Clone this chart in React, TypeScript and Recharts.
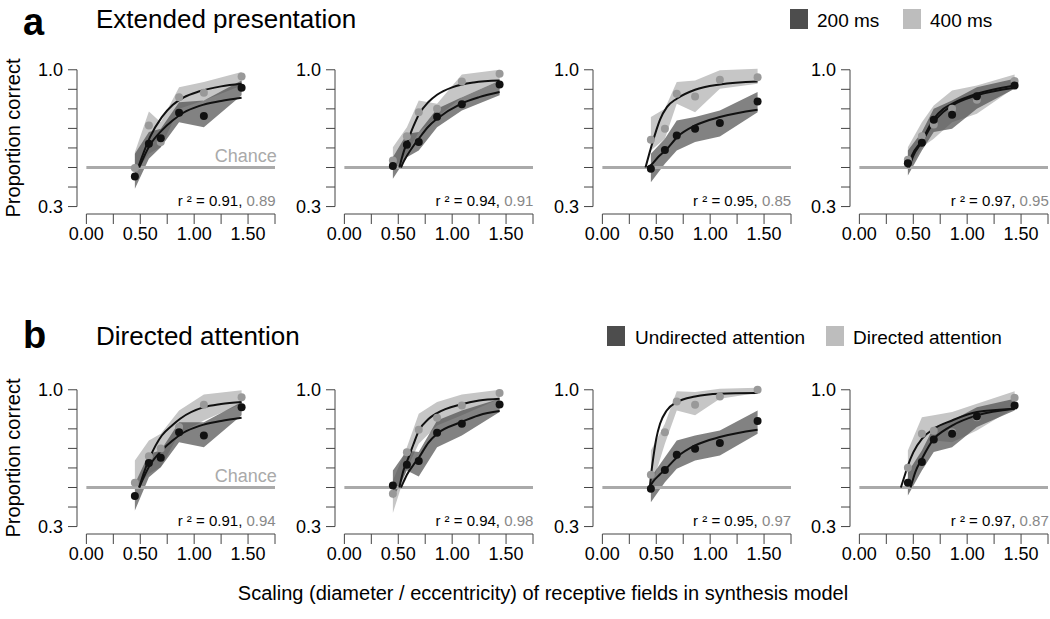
import React from "react";
import {
  ComposedChart,
  Area,
  Line,
  Scatter,
  XAxis,
  YAxis,
  ReferenceLine,
} from "recharts";

// scaling values tested (same for every panel)
const SCALING = [0.45, 0.58, 0.69, 0.86, 1.09, 1.44];
const X_TICKS = [0, 0.25, 0.5, 0.75, 1, 1.25, 1.5, 1.75];
const X_LABELS = [0, 0.5, 1, 1.5];
const Y_TICKS = [0.3, 0.4, 0.5, 0.6, 0.7, 0.8, 0.9, 1.0];
const Y_LABELS = [0.3, 1.0];
const CHANCE = 0.5;

// panel order: a1 a2 a3 a4 b1 b2 b3 b4
const DARK_DOTS = [
  [0.454, 0.621, 0.65, 0.78, 0.763, 0.908],
  [0.507, 0.616, 0.63, 0.76, 0.823, 0.925],
  [0.493, 0.59, 0.664, 0.698, 0.727, 0.838],
  [0.522, 0.626, 0.744, 0.77, 0.865, 0.92],
  [0.456, 0.625, 0.652, 0.783, 0.766, 0.911],
  [0.51, 0.616, 0.635, 0.78, 0.826, 0.925],
  [0.493, 0.59, 0.667, 0.698, 0.727, 0.84],
  [0.524, 0.63, 0.746, 0.775, 0.865, 0.92],
];
const LIGHT_DOTS = [
  [0.498, 0.715, 0.63, 0.86, 0.882, 0.966],
  [0.536, 0.66, 0.783, 0.8, 0.94, 0.98],
  [0.642, 0.698, 0.877, 0.863, 0.949, 0.962],
  [0.539, 0.66, 0.72, 0.8, 0.846, 0.942],
  [0.524, 0.66, 0.7, 0.809, 0.923, 0.962],
  [0.468, 0.68, 0.795, 0.857, 0.92, 0.983],
  [0.565, 0.783, 0.94, 0.923, 0.966, 1.0],
  [0.601, 0.775, 0.79, 0.783, 0.86, 0.959],
];
const DARK_LO = [
  [0.391, 0.545, 0.604, 0.732, 0.706, 0.869],
  [0.442, 0.553, 0.587, 0.706, 0.792, 0.869],
  [0.425, 0.519, 0.587, 0.63, 0.659, 0.783],
  [0.459, 0.587, 0.681, 0.698, 0.8, 0.903],
  [0.382, 0.553, 0.604, 0.732, 0.706, 0.869],
  [0.442, 0.587, 0.556, 0.706, 0.766, 0.886],
  [0.425, 0.527, 0.596, 0.638, 0.664, 0.775],
  [0.459, 0.587, 0.681, 0.706, 0.809, 0.894],
];
const DARK_HI = [
  [0.57, 0.681, 0.698, 0.834, 0.843, 0.945],
  [0.553, 0.672, 0.681, 0.8, 0.86, 0.945],
  [0.57, 0.647, 0.741, 0.758, 0.792, 0.886],
  [0.587, 0.681, 0.8, 0.843, 0.911, 0.954],
  [0.519, 0.672, 0.689, 0.834, 0.834, 0.937],
  [0.587, 0.689, 0.681, 0.843, 0.894, 0.954],
  [0.553, 0.655, 0.741, 0.766, 0.792, 0.894],
  [0.578, 0.689, 0.809, 0.843, 0.911, 0.954],
];
const LIGHT_LO = [
  [0.468, 0.57, 0.604, 0.8, 0.843, 0.92],
  [0.493, 0.57, 0.681, 0.758, 0.86, 0.945],
  [0.587, 0.647, 0.826, 0.783, 0.903, 0.928],
  [0.485, 0.604, 0.647, 0.732, 0.775, 0.908],
  [0.493, 0.57, 0.604, 0.775, 0.843, 0.928],
  [0.369, 0.596, 0.724, 0.817, 0.869, 0.954],
  [0.493, 0.724, 0.894, 0.869, 0.954, 0.983],
  [0.51, 0.638, 0.741, 0.732, 0.792, 0.908],
];
const LIGHT_HI = [
  [0.578, 0.787, 0.732, 0.911, 0.937, 0.988],
  [0.604, 0.706, 0.843, 0.826, 0.976, 1.0],
  [0.758, 0.8, 0.937, 0.945, 0.997, 1.005],
  [0.604, 0.732, 0.817, 0.894, 0.92, 0.976],
  [0.638, 0.741, 0.775, 0.894, 0.976, 0.997],
  [0.536, 0.706, 0.877, 0.937, 0.976, 1.0],
  [0.689, 0.826, 0.993, 0.988, 1.005, 1.01],
  [0.689, 0.86, 0.869, 0.886, 0.928, 0.993],
];

// fitted curves, [scaling, proportion]
const DARK_FIT = [
  [[0.49, 0.5], [0.53, 0.55], [0.59, 0.615], [0.7, 0.69], [0.8, 0.74], [0.9, 0.78], [1.05, 0.815], [1.25, 0.84], [1.44, 0.857]],
  [[0.525, 0.5], [0.55, 0.53], [0.58, 0.56], [0.64, 0.61], [0.69, 0.647], [0.78, 0.71], [0.86, 0.749], [1.08, 0.826], [1.25, 0.86], [1.44, 0.886]],
  [[0.415, 0.5], [0.45, 0.512], [0.52, 0.555], [0.59, 0.59], [0.7, 0.659], [0.86, 0.715], [1.09, 0.758], [1.44, 0.795]],
  [[0.46, 0.5], [0.5, 0.56], [0.58, 0.63], [0.69, 0.732], [0.78, 0.785], [0.86, 0.817], [1.09, 0.869], [1.44, 0.908]],
  [[0.49, 0.5], [0.53, 0.55], [0.59, 0.615], [0.7, 0.69], [0.8, 0.74], [0.9, 0.78], [1.05, 0.815], [1.25, 0.84], [1.44, 0.857]],
  [[0.525, 0.5], [0.55, 0.53], [0.58, 0.565], [0.64, 0.615], [0.69, 0.652], [0.78, 0.73], [0.86, 0.775], [1.08, 0.834], [1.25, 0.87], [1.44, 0.891]],
  [[0.435, 0.5], [0.47, 0.53], [0.53, 0.565], [0.59, 0.596], [0.7, 0.659], [0.86, 0.715], [1.09, 0.758], [1.44, 0.795]],
  [[0.475, 0.5], [0.52, 0.58], [0.58, 0.647], [0.69, 0.749], [0.78, 0.79], [0.86, 0.817], [1.09, 0.869], [1.44, 0.903]],
];
const LIGHT_FIT = [
  [[0.48, 0.5], [0.52, 0.56], [0.59, 0.655], [0.7, 0.758], [0.8, 0.82], [0.9, 0.858], [1.05, 0.89], [1.25, 0.915], [1.44, 0.928]],
  [[0.51, 0.5], [0.55, 0.58], [0.58, 0.625], [0.64, 0.71], [0.69, 0.77], [0.78, 0.835], [0.86, 0.872], [1.0, 0.91], [1.2, 0.935], [1.44, 0.945]],
  [[0.4, 0.5], [0.43, 0.56], [0.45, 0.6], [0.5, 0.69], [0.535, 0.745], [0.6, 0.81], [0.69, 0.852], [0.86, 0.898], [1.09, 0.925], [1.44, 0.94]],
  [[0.445, 0.5], [0.49, 0.565], [0.58, 0.638], [0.69, 0.749], [0.78, 0.8], [0.86, 0.826], [1.09, 0.877], [1.44, 0.92]],
  [[0.49, 0.5], [0.53, 0.57], [0.59, 0.655], [0.7, 0.766], [0.8, 0.82], [0.87, 0.852], [1.09, 0.911], [1.25, 0.927], [1.44, 0.937]],
  [[0.51, 0.5], [0.55, 0.59], [0.58, 0.632], [0.64, 0.72], [0.69, 0.79], [0.78, 0.85], [0.86, 0.881], [1.08, 0.925], [1.25, 0.945], [1.44, 0.954]],
  [[0.44, 0.5], [0.455, 0.58], [0.473, 0.655], [0.5, 0.75], [0.535, 0.826], [0.597, 0.894], [0.69, 0.937], [0.86, 0.966], [1.09, 0.98], [1.44, 0.983]],
  [[0.385, 0.5], [0.42, 0.56], [0.445, 0.604], [0.5, 0.68], [0.58, 0.749], [0.69, 0.8], [0.86, 0.843], [1.09, 0.886], [1.44, 0.903]],
];

const R2_DARK = [0.91, 0.94, 0.95, 0.97, 0.91, 0.94, 0.95, 0.97];
const R2_LIGHT = [0.89, 0.91, 0.85, 0.95, 0.94, 0.98, 0.97, 0.87];

const ROW_LETTERS = ["a", "b"];
const ROW_TITLES = ["Extended presentation", "Directed attention"];
const LEGEND_DARK = ["200 ms", "Undirected attention"];
const LEGEND_LIGHT = ["400 ms", "Directed attention"];

const FONT = '"Liberation Sans", Arial, Helvetica, sans-serif';
const AXIS = "#444";
const DARK = "#4d4d4d";
const LIGHT = "#c6c6c6";

const X_DOMAIN: [number, number] = [-0.087, 1.75];
const Y_DOMAIN: [number, number] = [0.262, 1.05];

// y is the text baseline
function Txt({ x, y, size, lh, anchor = "start", color = "#000", weight = 400, children }: any) {
  const w = 1000;
  const lineH = lh ?? size;
  const left = anchor === "start" ? x : anchor === "end" ? x - w : x - w / 2;
  const base = (lineH - 1.117 * size) / 2 + 0.905 * size;
  return (
    <div
      style={{
        position: "absolute",
        left,
        top: y - base,
        width: w,
        height: lineH,
        textAlign: anchor === "start" ? "left" : anchor === "end" ? "right" : "center",
        fontSize: size,
        lineHeight: `${lineH}px`,
        fontWeight: weight,
        color,
        whiteSpace: "nowrap",
        fontFamily: FONT,
      }}
    >
      {children}
    </div>
  );
}

function Panel({ idx }: { idx: number }) {
  const col = idx % 4;
  const row = Math.floor(idx / 4);
  const axisX = 77.3 + 257.7 * col;
  const plotTop = 59.5 + 320 * row;
  const zeroX = axisX + 9.4;

  const bands = SCALING.map((x, i) => ({
    x,
    dark: [DARK_LO[idx][i], DARK_HI[idx][i]],
    light: [LIGHT_LO[idx][i], LIGHT_HI[idx][i]],
  }));
  const darkDots = SCALING.map((x, i) => ({ x, y: DARK_DOTS[idx][i] }));
  const lightDots = SCALING.map((x, i) => ({ x, y: LIGHT_DOTS[idx][i] }));
  const darkFit = DARK_FIT[idx].map(([x, p]) => ({ x, p }));
  const lightFit = LIGHT_FIT[idx].map(([x, p]) => ({ x, p }));

  return (
    <>
      <div style={{ position: "absolute", left: axisX - 60, top: plotTop - 10 }}>
        <ComposedChart
          width={268}
          height={204}
          data={bands}
          margin={{ top: 10, right: 10, left: 10, bottom: 5 }}
        >
          <XAxis
            type="number"
            dataKey="x"
            domain={X_DOMAIN}
            ticks={X_TICKS}
            interval={0}
            allowDataOverflow
            axisLine={false}
            tickSize={10}
            tickMargin={3}
            height={35}
            stroke={AXIS}
            tick={{ fontSize: 18, fill: "#000", fontFamily: FONT }}
            tickFormatter={(v: number) =>
              X_LABELS.some((t) => Math.abs(t - v) < 1e-9) ? v.toFixed(2) : ""
            }
          />
          <YAxis
            type="number"
            domain={Y_DOMAIN}
            ticks={Y_TICKS}
            interval={0}
            allowDataOverflow
            axisLine={false}
            tickSize={9}
            tickMargin={5}
            width={50}
            stroke={AXIS}
            tick={{ fontSize: 18, fill: "#000", fontFamily: FONT }}
            tickFormatter={(v: number) =>
              Y_LABELS.some((t) => Math.abs(t - v) < 1e-9) ? v.toFixed(1) : ""
            }
          />
          <ReferenceLine
            segment={[{ x: 0, y: Y_DOMAIN[0] }, { x: 1.75, y: Y_DOMAIN[0] }]}
            stroke={AXIS}
            strokeWidth={1}
            ifOverflow="visible"
          />
          <ReferenceLine
            segment={[{ x: X_DOMAIN[0], y: 0.3 }, { x: X_DOMAIN[0], y: 1.0 }]}
            stroke={AXIS}
            strokeWidth={1}
            ifOverflow="visible"
          />
          <ReferenceLine
            segment={[{ x: 0, y: CHANCE }, { x: 1.75, y: CHANCE }]}
            stroke="#aaa"
            strokeWidth={3}
            ifOverflow="visible"
          />
          <Area
            dataKey="light"
            type="linear"
            stroke="none"
            fill={LIGHT}
            fillOpacity={1}
            isAnimationActive={false}
          />
          <Area
            dataKey="dark"
            type="linear"
            stroke="none"
            fill={DARK}
            fillOpacity={0.7}
            isAnimationActive={false}
          />
          <Line
            data={lightFit}
            dataKey="p"
            type="monotone"
            stroke="#111"
            strokeWidth={2}
            dot={false}
            isAnimationActive={false}
          />
          <Line
            data={darkFit}
            dataKey="p"
            type="monotone"
            stroke="#111"
            strokeWidth={2}
            dot={false}
            isAnimationActive={false}
          />
          <Scatter
            data={lightDots}
            dataKey="y"
            fill="#999"
            shape={(p: any) => <circle cx={p.cx} cy={p.cy} r={4} fill="#999" />}
            isAnimationActive={false}
          />
          <Scatter
            data={darkDots}
            dataKey="y"
            fill="#111"
            shape={(p: any) => <circle cx={p.cx} cy={p.cy} r={4} fill="#111" />}
            isAnimationActive={false}
          />
        </ComposedChart>
      </div>
      {col === 0 && (
        <Txt x={zeroX + 190} y={plotTop + 103.2} size={18} anchor="end" color="#aaa">
          Chance
        </Txt>
      )}
      <Txt x={zeroX + 189} y={plotTop + 146.5} size={15} anchor="end">
        r ² = {R2_DARK[idx].toFixed(2)}, <span style={{ color: "#888" }}>{R2_LIGHT[idx].toFixed(2)}</span>
      </Txt>
    </>
  );
}

function Square({ x, y, color }: { x: number; y: number; color: string }) {
  return (
    <div
      style={{ position: "absolute", left: x, top: y, width: 18, height: 20, background: color }}
    />
  );
}

export default function App() {
  const legendA = { dark: 790, darkText: 817, light: 903, lightText: 930 };
  const legendB = { dark: 607, darkText: 635, light: 826, lightText: 853 };
  const legends = [legendA, legendB];
  const baselines = [28, 345];
  const letterBaselines = [35, 348];

  return (
    <div
      style={{
        position: "absolute",
        left: 0,
        top: 0,
        width: 1050,
        height: 619,
        background: "#fff",
        fontFamily: FONT,
        overflow: "hidden",
      }}
    >
      {[0, 1].map((r) => (
        <React.Fragment key={r}>
          <Txt x={23} y={letterBaselines[r]} size={38} lh={30} weight={700}>
            {ROW_LETTERS[r]}
          </Txt>
          <Txt x={96} y={baselines[r]} size={26}>
            {ROW_TITLES[r]}
          </Txt>
          <Square x={legends[r].dark} y={baselines[r] - 19} color={DARK} />
          <Txt x={legends[r].darkText} y={baselines[r] - 1} size={19}>
            {LEGEND_DARK[r]}
          </Txt>
          <Square x={legends[r].light} y={baselines[r] - 19} color="#bdbdbd" />
          <Txt x={legends[r].lightText} y={baselines[r] - 1} size={19}>
            {LEGEND_LIGHT[r]}
          </Txt>
          <div
            style={{
              position: "absolute",
              left: 13 - 110,
              top: 137.6 + 320 * r - 11,
              width: 220,
              height: 22,
              lineHeight: "22px",
              fontSize: 20,
              textAlign: "center",
              transform: "rotate(-90deg)",
              whiteSpace: "nowrap",
            }}
          >
            Proportion correct
          </div>
        </React.Fragment>
      ))}
      {[0, 1, 2, 3, 4, 5, 6, 7].map((i) => (
        <Panel key={i} idx={i} />
      ))}
      <Txt x={543} y={600} size={20} anchor="middle">
        Scaling (diameter / eccentricity) of receptive fields in synthesis model
      </Txt>
    </div>
  );
}
